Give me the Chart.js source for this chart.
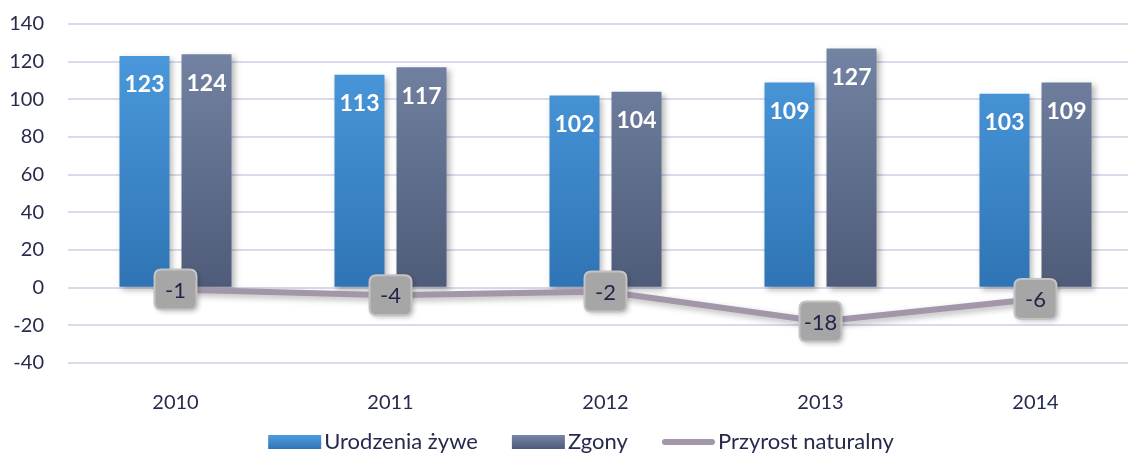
<!DOCTYPE html>
<html>
<head>
<meta charset="utf-8">
<script src="https://cdn.jsdelivr.net/npm/chart.js@4"></script>
<style>
    html, body { margin: 0; padding: 0; background: #fff; overflow: hidden; }
    #wrap { width: 1128px; height: 453px; overflow: hidden; }
</style>
</head>
<body>
<div id="wrap"><canvas id="chart" width="1143" height="453"></canvas></div>
<script>
const years = ['2010', '2011', '2012', '2013', '2014'];
const births = [123, 113, 102, 109, 103];
const deaths = [124, 117, 104, 127, 109];
const growth = [-1, -4, -2, -18, -6];
const yTicks = [140, 120, 100, 80, 60, 40, 20, 0, -20, -40];
const seriesNames = ['Urodzenia żywe', 'Zgony', 'Przyrost naturalny'];

const textColor = '#262b4d';
const fontFamily = 'Lato, "Open Sans", sans-serif';

function barGradient(top, bottom) {
    return function(context) {
        const chart = context.chart;
        const area = chart.chartArea;
        if (!area) return top;
        const zeroY = chart.scales.y.getPixelForValue(0);
        const g = chart.ctx.createLinearGradient(0, area.top, 0, zeroY);
        g.addColorStop(0, top);
        g.addColorStop(1, bottom);
        return g;
    };
}

const swatches = [
    { type: 'box', top: '#4d9de0', bottom: '#2f74b5' },
    { type: 'box', top: '#7787a7', bottom: '#4e5b79' },
    { type: 'line', color: '#a396a9' }
];

// shadows under bars and line
const shadowPlugin = {
    id: 'shadow',
    beforeDatasetDraw(chart) {
        const ctx = chart.ctx;
        ctx.save();
        ctx.shadowColor = 'rgba(0,0,0,0.28)';
        ctx.shadowBlur = 6;
        ctx.shadowOffsetX = 3;
        ctx.shadowOffsetY = 3;
    },
    afterDatasetDraw(chart) {
        chart.ctx.restore();
    }
};

function roundRect(ctx, x, y, w, h, r) {
    ctx.beginPath();
    ctx.moveTo(x + r, y);
    ctx.lineTo(x + w - r, y);
    ctx.quadraticCurveTo(x + w, y, x + w, y + r);
    ctx.lineTo(x + w, y + h - r);
    ctx.quadraticCurveTo(x + w, y + h, x + w - r, y + h);
    ctx.lineTo(x + r, y + h);
    ctx.quadraticCurveTo(x, y + h, x, y + h - r);
    ctx.lineTo(x, y + r);
    ctx.quadraticCurveTo(x, y, x + r, y);
    ctx.closePath();
}

const labelPlugin = {
    id: 'valueLabels',
    afterDatasetsDraw(chart) {
        const ctx = chart.ctx;
        ctx.save();
        ctx.textAlign = 'center';
        ctx.textBaseline = 'middle';
        [0, 1].forEach(di => {
            const meta = chart.getDatasetMeta(di);
            ctx.font = 'bold 23px ' + fontFamily;
            ctx.fillStyle = '#ffffff';
            meta.data.forEach((bar, i) => {
                ctx.fillText(chart.data.datasets[di].data[i], bar.x, bar.y + 29);
            });
        });
        const lineMeta = chart.getDatasetMeta(2);
        lineMeta.data.forEach((pt, i) => {
            const w = 42, h = 40;
            ctx.save();
            ctx.shadowColor = 'rgba(0,0,0,0.25)';
            ctx.shadowBlur = 5;
            ctx.shadowOffsetX = 2;
            ctx.shadowOffsetY = 2;
            roundRect(ctx, pt.x - w / 2, pt.y - h / 2, w, h, 7);
            ctx.fillStyle = '#a6a6a6';
            ctx.fill();
            ctx.restore();
            ctx.lineWidth = 2;
            ctx.strokeStyle = '#c4c4c4';
            roundRect(ctx, pt.x - w / 2, pt.y - h / 2, w, h, 7);
            ctx.stroke();
            ctx.fillStyle = '#1f2448';
            ctx.font = '22px ' + fontFamily;
            ctx.fillText(growth[i], pt.x, pt.y + 1);
        });
        ctx.restore();
    }
};

const legendPlugin = {
    id: 'bottomLegend',
    afterDraw(chart) {
        const ctx = chart.ctx;
        ctx.save();
        ctx.font = '22px ' + fontFamily;
        ctx.textBaseline = 'middle';
        const sw = 53, gapText = 3, gapItem = 34, y = 442;
        let total = 0;
        seriesNames.forEach((n, i) => {
            total += sw + gapText + ctx.measureText(n).width + (i < seriesNames.length - 1 ? gapItem : 0);
        });
        let x = 581 - total / 2;
        seriesNames.forEach((n, i) => {
            const s = swatches[i];
            if (s.type === 'box') {
                const g = ctx.createLinearGradient(0, y - 7, 0, y + 7);
                g.addColorStop(0, s.top);
                g.addColorStop(1, s.bottom);
                ctx.fillStyle = g;
                ctx.fillRect(x, y - 7, sw, 14);
            } else {
                ctx.strokeStyle = s.color;
                ctx.lineWidth = 6;
                ctx.lineCap = 'round';
                ctx.beginPath();
                ctx.moveTo(x + 3, y);
                ctx.lineTo(x + sw - 3, y);
                ctx.stroke();
            }
            x += sw + gapText;
            ctx.fillStyle = textColor;
            ctx.fillText(n, x, y);
            x += ctx.measureText(n).width + gapItem;
        });
        ctx.restore();
    }
};

new Chart(document.getElementById('chart'), {
    type: 'bar',
    data: {
        labels: years,
        datasets: [
            {
                label: seriesNames[0],
                data: births,
                backgroundColor: barGradient(swatches[0].top, swatches[0].bottom),
                barPercentage: 0.806,
                categoryPercentage: 0.577,
                order: 1
            },
            {
                label: seriesNames[1],
                data: deaths,
                backgroundColor: barGradient(swatches[1].top, swatches[1].bottom),
                barPercentage: 0.806,
                categoryPercentage: 0.577,
                order: 1
            },
            {
                type: 'line',
                label: seriesNames[2],
                data: growth,
                borderColor: swatches[2].color,
                borderWidth: 6,
                pointRadius: 0,
                tension: 0,
                order: 0
            }
        ]
    },
    options: {
        responsive: false,
        animation: false,
        layout: { padding: { top: 24, right: 0, bottom: 40, left: 0 } },
        plugins: {
            legend: { display: false },
            tooltip: { enabled: false }
        },
        scales: {
            x: {
                grid: { display: false },
                border: { display: false },
                ticks: { color: textColor, font: { size: 20, family: fontFamily }, padding: 20 },
                afterFit(scale) {
                    scale.height = 50;
                    scale.paddingLeft = 0;
                    scale.paddingRight = 0;
                }
            },
            y: {
                min: -40,
                max: 140,
                afterBuildTicks(scale) { scale.ticks = yTicks.map(v => ({ value: v })); },
                grid: { color: '#dadaee', lineWidth: 2, drawTicks: false },
                border: { display: false },
                ticks: { color: textColor, font: { size: 20, family: fontFamily }, padding: 24 },
                afterFit(scale) {
                    scale.width = 68;
                    scale.paddingTop = 0;
                    scale.paddingBottom = 0;
                }
            }
        }
    },
    plugins: [shadowPlugin, labelPlugin, legendPlugin]
});
</script>
</body>
</html>
